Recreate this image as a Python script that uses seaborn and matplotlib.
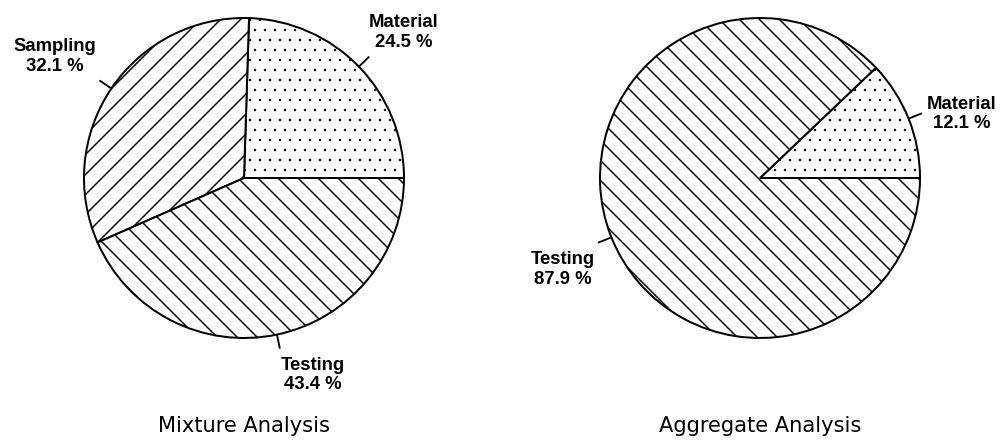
import numpy as np
import matplotlib
matplotlib.use("Agg")
import matplotlib.pyplot as plt
import seaborn as sns

# data
mixture_labels = ["Material", "Sampling", "Testing"]
mixture_values = [24.5, 32.1, 43.4]
aggregate_labels = ["Material", "Testing"]
aggregate_values = [12.1, 87.9]
titles = ["Mixture Analysis", "Aggregate Analysis"]

hatch_by_label = {"Material": "..", "Sampling": "//", "Testing": "\\\\"}

# text placement (data units, radius = 1)
label_pos = [
    {"Material": (1.0, 0.91), "Sampling": (-1.18, 0.76), "Testing": (0.43, -1.23)},
    {"Material": (1.2625, 0.40), "Testing": (-1.23, -0.57)},
]

sns.set_theme(style="white")
plt.rcParams["hatch.linewidth"] = 0.9
plt.rcParams["hatch.color"] = "black"

dpi = 120
fig = plt.figure(figsize=(1000 / dpi, 441 / dpi), dpi=dpi)
fig.patch.set_facecolor("white")

R = 160.0  # pixels per radius
centers_px = [244, 260]  # pie centre inside each half (px)
cy = 178

panels = [(mixture_labels, mixture_values), (aggregate_labels, aggregate_values)]

for i, (labels, values) in enumerate(panels):
    ax = fig.add_axes([0.5 * i, 0, 0.5, 1])
    wedges, _ = ax.pie(
        values,
        startangle=0,
        counterclock=True,
        hatch=[hatch_by_label[l] for l in labels],
        wedgeprops=dict(facecolor="white", edgecolor="black", linewidth=1.2),
    )
    ax.set_aspect("auto")
    ax.set_xlim(-centers_px[i] / R, (500 - centers_px[i]) / R)
    ax.set_ylim(-(441 - cy) / R, cy / R)
    ax.axis("off")

    for w, lab, val in zip(wedges, labels, values):
        # finer dots for the stippled wedge
        if lab == "Material" and hasattr(w, "set_hatch_linewidth"):
            w.set_hatch_linewidth(0.3)
        mid = np.deg2rad((w.theta1 + w.theta2) / 2)
        ax.plot([np.cos(mid), 1.09 * np.cos(mid)], [np.sin(mid), 1.09 * np.sin(mid)],
                color="black", lw=1.1, solid_capstyle="butt")
        tx, ty = label_pos[i][lab]
        ax.text(tx, ty, f"{lab}\n{val:.1f} %", ha="center", va="center",
                fontsize=11.1, family="Liberation Sans", weight="bold",
                linespacing=1.2, color="black")

    ax.text(0, -1.55, titles[i], ha="center", va="center", fontsize=12.6,
            family="DejaVu Sans", color="black")

fig.savefig("out.png", dpi=dpi, facecolor="white")
